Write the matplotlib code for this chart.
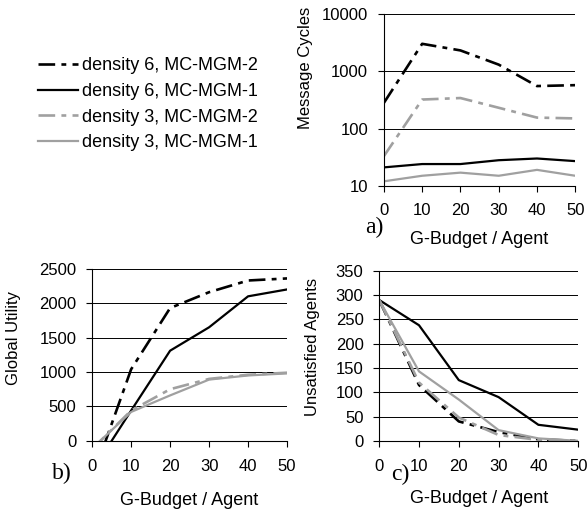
import numpy as np
import matplotlib
matplotlib.use("Agg")
import matplotlib.pyplot as plt
from matplotlib.lines import Line2D

plt.rcParams['font.family'] = ['Liberation Sans', 'DejaVu Sans']
plt.rcParams['lines.scale_dashes'] = False

budget = [0, 10, 20, 30, 40, 50]
series_labels = ["density 6, MC-MGM-2", "density 6, MC-MGM-1",
                 "density 3, MC-MGM-2", "density 3, MC-MGM-1"]

# a) message cycles (log scale)
cycles_d6_m2 = [280, 3000, 2300, 1300, 550, 570]
cycles_d6_m1 = [21, 24, 24, 28, 30, 27]
cycles_d3_m2 = [33, 320, 340, 230, 155, 150]
cycles_d3_m1 = [12, 15, 17, 15, 19, 15]

# b) global utility (values below 0 are cut by the axis)
util_d6_m2 = [-550, 1040, 1930, 2160, 2330, 2360]
util_d6_m1 = [-440, 440, 1310, 1650, 2100, 2200]
util_d3_m2 = [-120, 440, 750, 900, 960, 990]
util_d3_m1 = [-110, 420, 660, 890, 950, 980]

# c) unsatisfied agents
unsat_d6_m2 = [290, 115, 40, 18, 3, 0]
unsat_d6_m1 = [290, 238, 125, 90, 33, 23]
unsat_d3_m2 = [290, 120, 48, 12, 2, 0]
unsat_d3_m1 = [290, 143, 85, 22, 5, 0]

dashdot = (0, (12, 4.5, 3.5, 4.5))
gray = '#a0a0a0'
styles = [
    dict(color='black', lw=1.9, linestyle=dashdot),
    dict(color='black', lw=1.6, linestyle='-'),
    dict(color=gray, lw=1.9, linestyle=dashdot),
    dict(color=gray, lw=1.6, linestyle='-'),
]

fig = plt.figure(figsize=(5.87, 5.12), dpi=100)
ax_a = fig.add_axes([0.654, 0.637, 0.326, 0.336])
ax_b = fig.add_axes([0.157, 0.139, 0.332, 0.336])
ax_c = fig.add_axes([0.646, 0.139, 0.339, 0.332])


def style_axes(ax, xpad):
    for s in ['top', 'right']:
        ax.spines[s].set_visible(False)
    for s in ['left', 'bottom']:
        ax.spines[s].set_linewidth(0.8)
    ax.yaxis.grid(True, color='black', lw=0.7)
    ax.set_axisbelow(True)
    ax.tick_params(axis='y', length=4.3, width=0.8, pad=7, labelsize=12)
    ax.tick_params(axis='x', length=4.3, width=0.8, pad=xpad, labelsize=12)
    ax.set_xlim(0, 50)
    ax.set_xticks(budget)
    ax.set_xlabel("G-Budget / Agent", fontsize=13)


for data, st in zip([cycles_d6_m2, cycles_d6_m1, cycles_d3_m2, cycles_d3_m1], styles):
    ax_a.plot(budget, data, **st)
ax_a.set_yscale('log')
ax_a.set_ylim(10, 10000)
ax_a.set_yticks([10, 100, 1000, 10000])
ax_a.set_yticklabels(['10', '100', '1000', '10000'])
ax_a.minorticks_off()
style_axes(ax_a, 8)
ax_a.set_ylabel("Message Cycles", fontsize=12)
ax_a.xaxis.set_label_coords(0.5, -0.262)
ax_a.yaxis.set_label_coords(-0.372, 0.686)

for data, st in zip([util_d6_m2, util_d6_m1, util_d3_m2, util_d3_m1], styles):
    ax_b.plot(budget, data, **st)
ax_b.set_ylim(0, 2500)
ax_b.set_yticks([0, 500, 1000, 1500, 2000, 2500])
style_axes(ax_b, 9)
ax_b.set_ylabel("Global Utility", fontsize=12)
ax_b.xaxis.set_label_coords(0.5, -0.297)
ax_b.yaxis.set_label_coords(-0.364, 0.6)

for data, st in zip([unsat_d6_m2, unsat_d6_m1, unsat_d3_m2, unsat_d3_m1], styles):
    ax_c.plot(budget, data, **st)
ax_c.set_ylim(0, 350)
ax_c.set_yticks([0, 50, 100, 150, 200, 250, 300, 350])
style_axes(ax_c, 9)
ax_c.set_ylabel("Unsatisfied Agents", fontsize=12)
ax_c.xaxis.set_label_coords(0.5, -0.288)
ax_c.yaxis.set_label_coords(-0.30, 0.55)

for txt, (x, y) in zip(['a)', 'b)', 'c)'], [(374, 227), (62, 473), (400, 474)]):
    fig.text(x / 587, 1 - y / 512, txt, fontsize=17, family='Liberation Serif',
             ha='center', va='center')

handles = [Line2D([], [], **st) for st in styles]
fig.legend(handles, series_labels, loc='upper left',
           bbox_to_anchor=(0.0647, 0.888), frameon=False, fontsize=13,
           handlelength=2.2, handletextpad=0.22, labelspacing=0.48,
           borderaxespad=0, borderpad=0)

fig.savefig("out.png", dpi=100)
